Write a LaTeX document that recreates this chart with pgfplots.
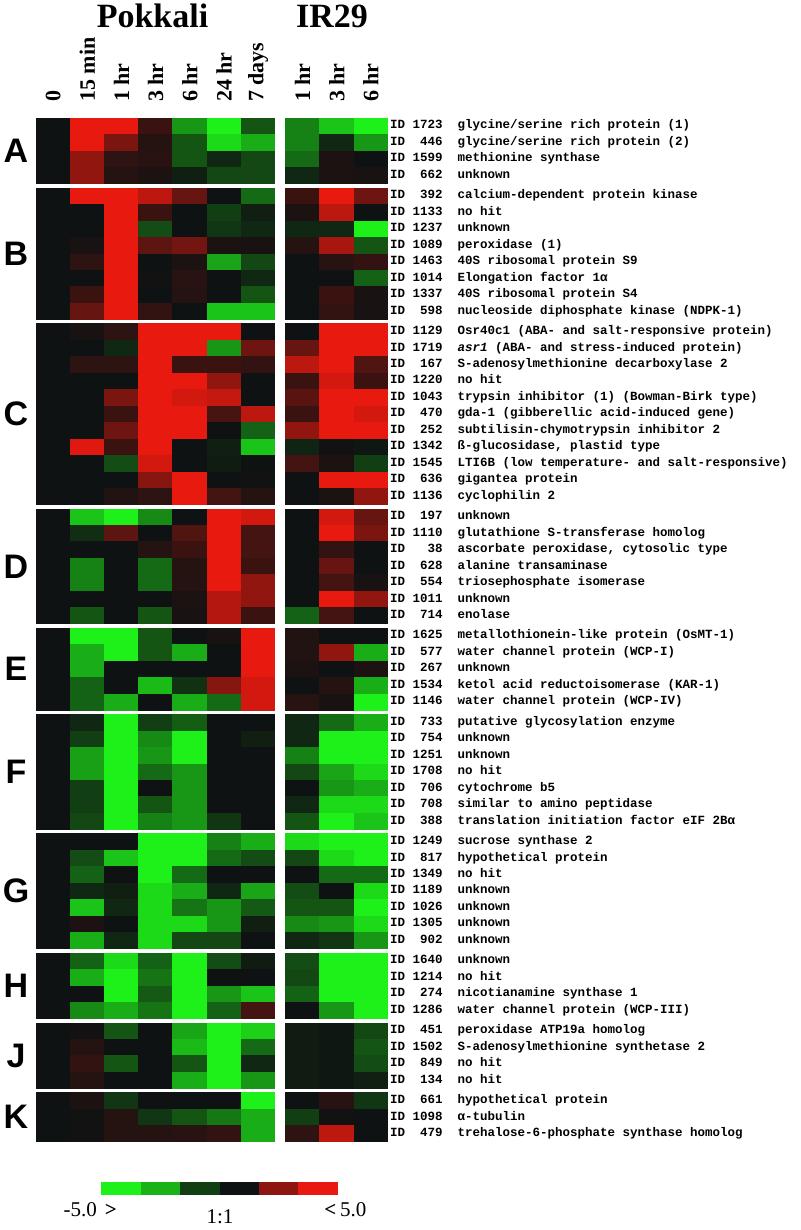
\documentclass[border=0pt]{standalone}
\usepackage{fontspec}
\setmainfont{Liberation Serif}
\newfontfamily\idfont{Liberation Mono}
\newfontfamily\grpfont{Liberation Sans}
\usepackage{pgfplots}
\usepackage{pgfplotstable}
\pgfplotsset{compat=1.18}

% green (down) - black (1:1) - red (up)
\pgfplotsset{colormap={redgreen}{rgb255=(30,240,25) rgb255=(15,18,18) rgb255=(232,25,15)}}

% heat-map cell, slightly larger than the grid step so no seams show
\pgfdeclareplotmark{cell}{\pgfpathrectangle{\pgfpoint{-17.3pt}{-8.45pt}}{\pgfpoint{34.6pt}{16.9pt}}\pgfusepathqfill}
\pgfdeclareplotmark{key}{\pgfpathrectangle{\pgfpoint{-19.9pt}{-6.65pt}}{\pgfpoint{39.8pt}{13.3pt}}\pgfusepathqfill}
\pgfplotsset{cells/.style={scatter, only marks, mark=cell, point meta=explicit}}
\tikzset{grp/.style={font=\grpfont\bfseries\fontsize{34}{34}\selectfont}}

% g = cluster, r = row; c0..c6 Pokkali (0,15min,1h,3h,6h,24h,7d), c7..c9 IR29 (1h,3h,6h)
\pgfplotstableread{
g r c0 c1 c2 c3 c4 c5 c6 c7 c8 c9 lab
0 0 0 5 5 1 -3 -5 -1.5 -2.5 -4 -5 {ID~1723~~glycine/serine rich protein (1)}
0 1 0 5 2.5 0.5 -1.5 -4.5 -3.5 -2.5 -0.5 -3 {ID~~446~~glycine/serine rich protein (2)}
0 2 0 3 0.7 0.6 -1.5 -0.5 -1.2 -2 0.3 0 {ID~1599~~methionine synthase}
0 3 0 3 0.5 0.3 -0.3 -1.2 -1.2 -0.5 0.3 0.2 {ID~~662~~unknown}
1 4 0 5 5 4 2 0 -2 1 5 2.2 {ID~~392~~calcium-dependent protein kinase}
1 5 0 0 5 1 0 -1 -0.3 0.3 4 0 {ID~1133~~no hit}
1 6 0 0 5 -1.3 0 -0.8 -0.5 -0.5 -0.5 -5 {ID~1237~~unknown}
1 7 0 0.2 5 1.8 2.3 0.3 0.2 0.5 3.5 -1.5 {ID~1089~~peroxidase (1)}
1 8 0 0.7 5 0 0.3 -3.3 -1.2 0 0.6 0.8 {ID~1463~~40S ribosomal protein S9}
1 9 0 0 5 0.1 0.6 0 -0.5 0 0 -1.8 {ID~1014~~Elongation factor 1α}
1 10 0 1 5 0 0.5 0 -1.5 0 1 0.2 {ID~1337~~40S ribosomal protein S4}
1 11 0 2 5 0.8 0 -4 -4 0 0.8 0.2 {ID~~598~~nucleoside diphosphate kinase (NDPK-1)}
2 12 0 0.2 0.7 5 5 5 0 0 5 5 {ID~1129~~Osr40c1 (ABA- and salt-responsive protein)}
2 13 0 0 -0.5 5 5 -3 2.2 2 5 5 {ID~1719~~\textit{asr1} (ABA- and stress-induced protein)}
2 14 0 0.7 0.7 5 1 1 0.8 4 5 1.5 {ID~~167~~S-adenosylmethionine decarboxylase 2}
2 15 0 0 0 5 5 3 0 1 4.5 1 {ID~1220~~no hit}
2 16 0 0 2.5 5 4.5 4.2 0 1.7 5 5 {ID~1043~~trypsin inhibitor (1) (Bowman-Birk type)}
2 17 0 0 1 5 5 1.3 4 1 5 4.5 {ID~~470~~gda-1 (gibberellic acid-induced gene)}
2 18 0 0 2.2 5 5 0 -1.8 3 5 5 {ID~~252~~subtilisin-chymotrypsin inhibitor 2}
2 19 0 4.8 1 5 0 -0.3 -4 -0.4 0.1 -0.1 {ID~1342~~ß-glucosidase, plastid type}
2 20 0 0 -1.3 4.5 0 -0.2 0 1.2 0.3 -1 {ID~1545~~LTI6B (low temperature- and salt-responsive)}
2 21 0 0 0 2.8 5 0 0.1 0 5 5 {ID~~636~~gigantea protein}
2 22 0 0 0.4 0.7 5 1.2 0.5 0 0.3 3 {ID~1136~~cyclophilin 2}
3 23 0 -4 -5 -2.7 0 5 4.5 0 4.5 2 {ID~~197~~unknown}
3 24 0 -0.6 1.8 0 1.5 5 1.2 0 5 2.5 {ID~1110~~glutathione S-transferase homolog}
3 25 0 0 0 0.5 1 5 1.2 0 0.8 0 {ID~~~38~~ascorbate peroxidase, cytosolic type}
3 26 0 -2.5 0 -2 0.5 5 1 0 2 0 {ID~~628~~alanine transaminase}
3 27 0 -2.5 0 -2 0.5 5 3 0 1.2 0.2 {ID~~554~~triosephosphate isomerase}
3 28 0 0 0 0 0.3 3.8 3 0 5 3 {ID~1011~~unknown}
3 29 0 -1.5 0 -1.5 0.2 3.8 1 -1.8 1.2 0 {ID~~714~~enolase}
4 30 0 -5 -5 -1.5 0 0.2 5 0.4 0 0 {ID~1625~~metallothionein-like protein (OsMT-1)}
4 31 0 -3.5 -5 -1.5 -3.5 0 5 0.4 3 -3.5 {ID~~577~~water channel protein (WCP-I)}
4 32 0 -3.5 0 0 0 0 5 0.3 0 0.3 {ID~~267~~unknown}
4 33 0 -1.8 0 -3.8 -0.7 2.8 4.5 0 0.5 -3.5 {ID~1534~~ketol acid reductoisomerase (KAR-1)}
4 34 0 -1.8 -3.5 0 -3.5 -2 4.5 0.6 0.2 -5 {ID~1146~~water channel protein (WCP-IV)}
5 35 0 -0.5 -5 -1 -1.7 0 0 -0.5 -2 -3.5 {ID~~733~~putative glycosylation enzyme}
5 36 0 -1 -5 -2.7 -5 0 -0.3 -0.5 -5 -5 {ID~~754~~unknown}
5 37 0 -3.2 -5 -3 -5 0 0 -2.5 -5 -5 {ID~1251~~unknown}
5 38 0 -3.2 -5 -2 -3 0 0 -1.2 -3.3 -4.5 {ID~1708~~no hit}
5 39 0 -1 -5 0 -3 0 0 0 -3 -3.5 {ID~~706~~cytochrome b5}
5 40 0 -1 -5 -1.5 -3 0 0 -0.5 -4.5 -4.5 {ID~~708~~similar to amino peptidase}
5 41 0 -1.2 -5 -2.5 -3 -0.8 0 -1.5 -5 -4 {ID~~388~~translation initiation factor eIF 2Bα}
6 42 0 0 0 -5 -5 -2.5 -3.5 -4.5 -5 -5 {ID~1249~~sucrose synthase 2}
6 43 0 -1.3 -4 -5 -5 -2 -1.3 -1.2 -4.5 -5 {ID~~817~~hypothetical protein}
6 44 0 -1.8 0 -5 -2 0 0 0 -2 -2 {ID~1349~~no hit}
6 45 0 -0.5 -0.3 -4.5 -3.5 -0.5 -3.3 -1.3 0 -4.5 {ID~1189~~unknown}
6 46 0 -4 -0.5 -4.5 -2.2 -3 -1.6 -1.5 -1.5 -5 {ID~1026~~unknown}
6 47 0 0.3 0 -4.5 -4.5 -3 -0.3 -2.7 -3 -4.5 {ID~1305~~unknown}
6 48 0 -3.5 -0.5 -4.5 -1.2 -1.2 0 -0.5 -0.8 -3 {ID~~902~~unknown}
7 49 0 -1.8 -4.5 -1.8 -5 -1.3 -0.2 -1.3 -5 -5 {ID~1640~~unknown}
7 50 0 -3.5 -5 -2.2 -5 0 0 -1.2 -5 -5 {ID~1214~~no hit}
7 51 0 0 -5 -1.6 -5 -3 -4 -1.8 -5 -5 {ID~~274~~nicotianamine synthase 1}
7 52 0 -2.7 -3.5 -2.2 -5 -1.8 1.2 0 -3 -5 {ID~1286~~water channel protein (WCP-III)}
8 53 0 0.1 -1.5 0 -3.3 -5 -4.3 -0.2 -0.1 -1.2 {ID~~451~~peroxidase ATP19a homolog}
8 54 0 0.5 0 0 -3.8 -5 -2 -0.2 -0.1 -1.5 {ID~1502~~S-adenosylmethionine synthetase 2}
8 55 0 0.8 -1.5 0 -1.5 -5 -0.5 -0.2 -0.1 -1.3 {ID~~849~~no hit}
8 56 0 0.5 0 0 -3.5 -5 -3 -0.2 -0.1 -0.3 {ID~~134~~no hit}
9 57 0 0.3 -0.8 0 0 0 -5 0 0.6 -0.8 {ID~~661~~hypothetical protein}
9 58 0 0.1 0.5 -0.8 -1.5 -2.3 -3.5 -1 0.1 0 {ID~1098~~α-tubulin}
9 59 0 0.1 0.5 0.5 0.6 0.8 -3.5 0.7 4 0 {ID~~479~~trehalose-6-phosphate synthase homolog}
}\genes

\begin{document}
\begin{tikzpicture}
\path[use as bounding box] (0pt,0pt) rectangle (800pt,-1230pt);

\node[font=\bfseries\fontsize{34}{34}\selectfont, anchor=base] at (152.5pt,-28pt) {Pokkali};
\node[font=\bfseries\fontsize{34}{34}\selectfont, anchor=base] at (332pt,-28pt) {IR29};

\begin{axis}[
  at={(36pt,-118pt)}, anchor=north west,
  scale only axis, width=352pt, height=1024pt, clip=false,
  xmin=-0.5, xmax=9.8, ymin=-0.5, ymax=61.687, y dir=reverse,
  axis line style={draw=none}, tick style={draw=none}, major tick length=0pt,
  point meta min=-5, point meta max=5,
  xtick={0,1,2,3,4,5,6,7.3,8.3,9.3},
  xticklabels={0,15 min,1 hr,3 hr,6 hr,24 hr,7 days,1 hr,3 hr,6 hr},
  xticklabel pos=right, xticklabel shift=16pt,
  xticklabel style={rotate=90, anchor=west, inner sep=0pt, font=\bfseries\fontsize{22}{22}\selectfont},
  ytick=data, yticklabels from table={\genes}{lab},
  yticklabel pos=right, yticklabel shift=2pt,
  yticklabel style={anchor=west, inner sep=0pt, text height=8pt, text depth=2.5pt,
    font=\idfont\bfseries\fontsize{12.5}{13}\selectfont},
]
\addplot[cells] table[x expr=0,   y expr=\thisrow{r}+0.243*\thisrow{g}, meta=c0] {\genes};
\addplot[cells] table[x expr=1,   y expr=\thisrow{r}+0.243*\thisrow{g}, meta=c1] {\genes};
\addplot[cells] table[x expr=2,   y expr=\thisrow{r}+0.243*\thisrow{g}, meta=c2] {\genes};
\addplot[cells] table[x expr=3,   y expr=\thisrow{r}+0.243*\thisrow{g}, meta=c3] {\genes};
\addplot[cells] table[x expr=4,   y expr=\thisrow{r}+0.243*\thisrow{g}, meta=c4] {\genes};
\addplot[cells] table[x expr=5,   y expr=\thisrow{r}+0.243*\thisrow{g}, meta=c5] {\genes};
\addplot[cells] table[x expr=6,   y expr=\thisrow{r}+0.243*\thisrow{g}, meta=c6] {\genes};
\addplot[cells] table[x expr=7.3, y expr=\thisrow{r}+0.243*\thisrow{g}, meta=c7] {\genes};
\addplot[cells] table[x expr=8.3, y expr=\thisrow{r}+0.243*\thisrow{g}, meta=c8] {\genes};
\addplot[cells] table[x expr=9.3, y expr=\thisrow{r}+0.243*\thisrow{g}, meta=c9] {\genes};

\node[grp] at (axis cs:-1.085,1.5) {A};
\node[grp] at (axis cs:-1.085,7.743) {B};
\node[grp] at (axis cs:-1.085,17.486) {C};
\node[grp] at (axis cs:-1.085,26.729) {D};
\node[grp] at (axis cs:-1.085,32.972) {E};
\node[grp] at (axis cs:-1.085,39.215) {F};
\node[grp] at (axis cs:-1.085,46.458) {G};
\node[grp] at (axis cs:-1.085,52.201) {H};
\node[grp] at (axis cs:-1.085,56.444) {J};
\node[grp] at (axis cs:-1.085,60.187) {K};
\end{axis}

% colour key
\begin{axis}[
  at={(101.7pt,-1181.7pt)}, anchor=north west,
  scale only axis, width=236.3pt, height=13.3pt, clip=false,
  xmin=-0.5, xmax=5.5, ymin=-0.5, ymax=0.5, hide axis,
  point meta min=-5, point meta max=5,
]
\addplot[scatter, only marks, mark=key, point meta=explicit]
  coordinates {(0,0) [-5] (1,0) [-3.6] (2,0) [-1] (3,0) [0] (4,0) [2.9] (5,0) [5]};
\end{axis}

\node[font=\fontsize{21}{21}\selectfont, anchor=base west] at (60pt,-1216.7pt) {-5.0\hspace{8pt}\textbf{>}};
\node[font=\fontsize{21}{21}\selectfont, anchor=base] at (220pt,-1223pt) {1:1};
\node[font=\fontsize{21}{21}\selectfont, anchor=base east] at (370pt,-1216.7pt) {\textbf{<}\hspace{4pt}5.0};
\end{tikzpicture}
\end{document}
